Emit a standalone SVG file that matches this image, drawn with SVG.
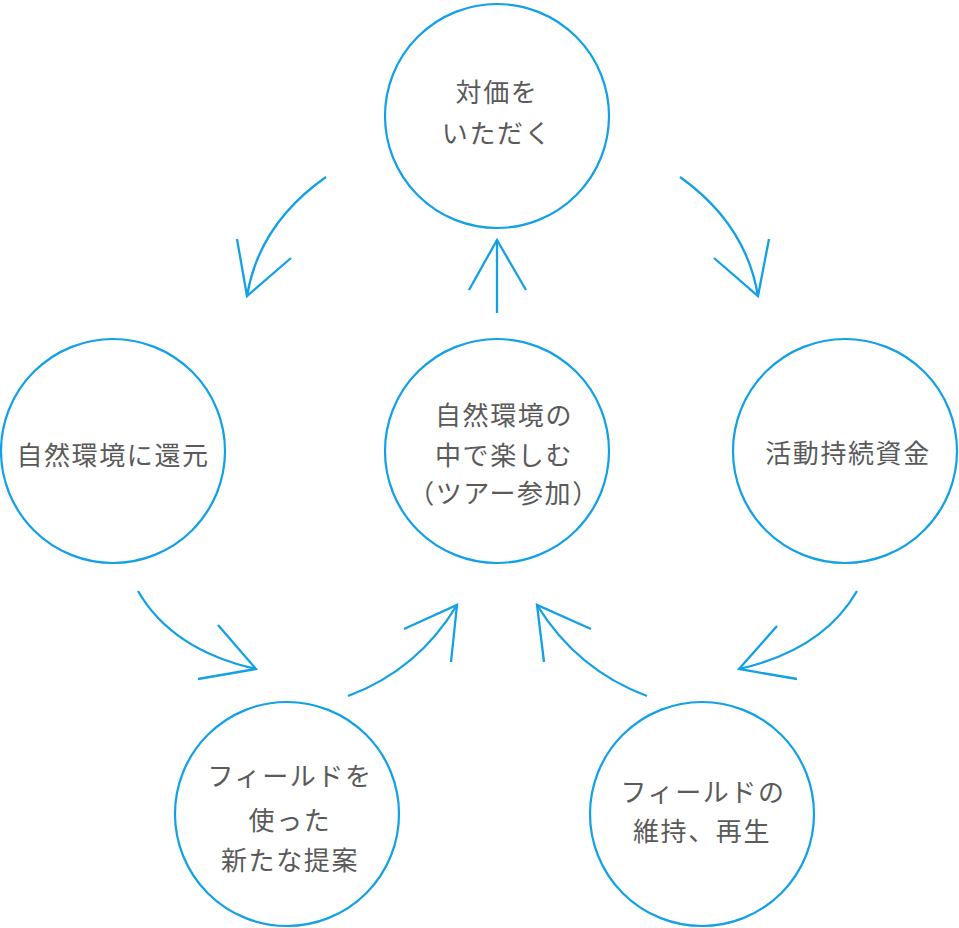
<svg xmlns="http://www.w3.org/2000/svg" width="959" height="928" viewBox="0 0 959 928">
<style>
.c{fill:#fff;stroke:#12a0e6;stroke-width:2.2}
.a{fill:none;stroke:#12a0e6;stroke-width:2.3;stroke-linejoin:miter}
.t{font-family:"Noto Sans CJK JP","Noto Sans",sans-serif;font-size:26px;font-weight:400;fill:#5a5a5a;text-anchor:middle;letter-spacing:1.6px}
</style>
<rect width="959" height="928" fill="#fff"/>
<g id="connectors">
<path class="a" d="M326,177 Q259,224 247,296"/>
<path class="a" d="M237,239 L247,296 L291,258"/>
<path class="a" d="M680,177 Q746,224 758,296"/>
<path class="a" d="M769,239 L758,296 L714,258"/>
<path class="a" d="M497,313 L497,240"/>
<path class="a" d="M469,290 L497,240 L526,290"/>
<path class="a" d="M138,591 Q172,650 256,669"/>
<path class="a" d="M218,625 L256,669 L198,679"/>
<path class="a" d="M857,591 Q823,650 739,669"/>
<path class="a" d="M777,626 L739,669 L797,679"/>
<path class="a" d="M348,696 Q418,670 457,605"/>
<path class="a" d="M404,629 L457,605 L451,662"/>
<path class="a" d="M647,696 Q577,670 537,605"/>
<path class="a" d="M591,629 L537,605 L544,662"/>
</g>
<g id="node-top">
<circle class="c" cx="497" cy="116" r="112"/>
<text class="t" x="497" y="102">対価を</text>
<text class="t" x="497" y="143">いただく</text>
</g>
<g id="node-left">
<circle class="c" cx="113" cy="451" r="112"/>
<text class="t" x="113" y="465">自然環境に還元</text>
</g>
<g id="node-center">
<circle class="c" cx="497" cy="451" r="112"/>
<text class="t" x="504" y="425">自然環境の</text>
<text class="t" x="504" y="465">中で楽しむ</text>
<text class="t" x="504" y="503">（ツアー参加）</text>
</g>
<g id="node-right">
<circle class="c" cx="845" cy="451" r="112"/>
<text class="t" x="848" y="463">活動持続資金</text>
</g>
<g id="node-bottom-left">
<circle class="c" cx="287" cy="814" r="112"/>
<text class="t" x="290" y="786">フィールドを</text>
<text class="t" x="290" y="830">使った</text>
<text class="t" x="290" y="870">新たな提案</text>
</g>
<g id="node-bottom-right">
<circle class="c" cx="702" cy="814" r="112"/>
<text class="t" x="703" y="802">フィールドの</text>
<text class="t" x="702" y="841">維持、再生</text>
</g>
</svg>
